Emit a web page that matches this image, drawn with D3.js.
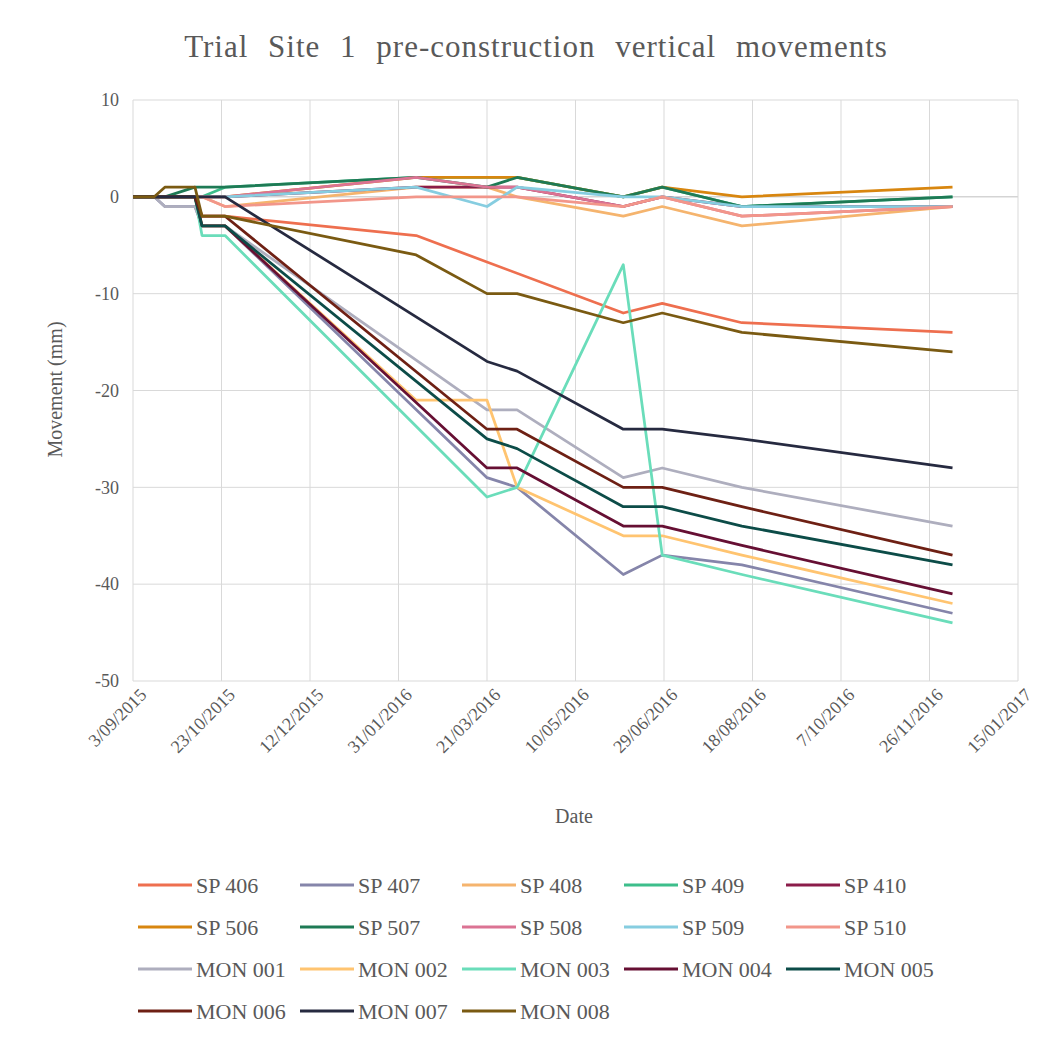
<!DOCTYPE html>
<html>
<head>
<meta charset="utf-8">
<script src="https://cdn.jsdelivr.net/npm/d3@7"></script>
<style>
  html, body { margin: 0; padding: 0; background: #ffffff; }
  svg { display: block; }
  svg text { font-family: "Liberation Serif", Tinos, "Noto Serif", "DejaVu Serif", FreeSerif, "Times New Roman", Times, serif; }
</style>
</head>
<body>
<svg id="chart" width="1057" height="1042"></svg>
<script>
// Survey dates (shared x values for every monitoring point)
const surveyDates = ["2015-09-03", "2015-09-15", "2015-09-21", "2015-10-08", "2015-10-12", "2015-10-25",
  "2016-02-10", "2016-03-21", "2016-04-07", "2016-06-06", "2016-06-28", "2016-08-12", "2016-12-09"];

// Series names in legend order
const seriesNames = ["SP 406", "SP 407", "SP 408", "SP 409", "SP 410",
  "SP 506", "SP 507", "SP 508", "SP 509", "SP 510",
  "MON 001", "MON 002", "MON 003", "MON 004", "MON 005",
  "MON 006", "MON 007", "MON 008"];

// Vertical movement (mm) per survey; null = not surveyed
const sp406 = [0, 0, 0, 0, -2, -2, -4, null, null, -12, -11, -13, -14];
const sp407 = [0, 0, -1, -1, -3, -3, null, -29, -30, -39, -37, -38, -43];
const sp408 = [0, 0, 0, 0, 0, -1, 1, 1, 0, -2, -1, -3, -1];
const sp409 = [0, 0, 0, 0, 0, 1, 2, 2, 2, 0, 1, -1, 0];
const sp410 = [0, 0, 0, 0, 0, 0, 1, 1, 1, -1, 0, -1, -1];
const sp506 = [0, 0, 0, 0, 0, 0, 2, 2, 2, 0, 1, 0, 1];
const sp507 = [0, 0, 0, 1, 1, 1, 2, 1, 2, 0, 1, -1, 0];
const sp508 = [0, 0, 0, 0, 0, 0, 2, 1, 1, -1, 0, -2, -1];
const sp509 = [0, 0, 0, 0, 0, 0, 1, -1, 1, 0, 0, -1, -1];
const sp510 = [0, 0, 0, 0, 0, -1, 0, 0, 0, -1, 0, -2, -1];
const mon001 = [0, 0, -1, -1, -3, -3, null, -22, -22, -29, -28, -30, -34];
const mon002 = [0, 0, 0, 0, -3, -3, -21, -21, -30, -35, -35, -37, -42];
const mon003 = [0, 0, 0, 0, -4, -4, null, -31, -30, -7, -37, -39, -44];
const mon004 = [0, 0, 0, 0, -3, -3, null, -28, -28, -34, -34, -36, -41];
const mon005 = [0, 0, 0, 0, -3, -3, null, -25, -26, -32, -32, -34, -38];
const mon006 = [0, 0, 0, 0, -2, -2, null, -24, -24, -30, -30, -32, -37];
const mon007 = [0, 0, 0, 0, 0, 0, null, -17, -18, -24, -24, -25, -28];
const mon008 = [0, 0, 1, 1, -2, -2, -6, -10, -10, -13, -12, -14, -16];

const seriesValues = [sp406, sp407, sp408, sp409, sp410, sp506, sp507, sp508, sp509, sp510,
  mon001, mon002, mon003, mon004, mon005, mon006, mon007, mon008];

const seriesColors = ["#EE6F4F", "#8585AA", "#F5B46E", "#3DBE8B", "#8B1C4A",
  "#D8860F", "#1E7A55", "#DB7393", "#86CDE0", "#F2968A",
  "#AEAEBE", "#FFC470", "#6ADDBA", "#660F33", "#0C4C48",
  "#6E2014", "#262A40", "#7A5A12"];

// Axis tick labels
const xTickLabels = ["3/09/2015", "23/10/2015", "12/12/2015", "31/01/2016", "21/03/2016", "10/05/2016",
  "29/06/2016", "18/08/2016", "7/10/2016", "26/11/2016", "15/01/2017"];
const yTicks = [10, 0, -10, -20, -30, -40, -50];

const svg = d3.select("#chart");
const parseISO = d3.utcParse("%Y-%m-%d");
const parseTick = d3.utcParse("%d/%m/%Y");
const tickDates = xTickLabels.map(parseTick);

const plot = { left: 133, right: 1018, top: 100, bottom: 681 };
const x = d3.scaleUtc().domain([tickDates[0], tickDates[tickDates.length - 1]]).range([plot.left, plot.right]);
const y = d3.scaleLinear().domain([-50, 10]).range([plot.bottom, plot.top]);

const textColor = "#595959";
const gridColor = "#D9D9D9";

// Title
svg.append("text")
  .attr("x", 536).attr("y", 57)
  .attr("text-anchor", "middle")
  .attr("font-size", 31)
  .attr("letter-spacing", 1)
  .attr("word-spacing", 11)
  .attr("fill", textColor)
  .text("Trial Site 1 pre-construction vertical movements");

// Gridlines
const grid = svg.append("g");
grid.selectAll("line.h").data(yTicks).join("line")
  .attr("x1", plot.left).attr("x2", plot.right)
  .attr("y1", d => y(d)).attr("y2", d => y(d))
  .attr("stroke", d => d === 0 ? "#BFBFBF" : gridColor).attr("stroke-width", 1);
grid.selectAll("line.v").data(tickDates).join("line")
  .attr("x1", d => x(d)).attr("x2", d => x(d))
  .attr("y1", plot.top).attr("y2", plot.bottom)
  .attr("stroke", gridColor).attr("stroke-width", 1);

// Y axis labels (plain hyphen minus)
const yAxis = d3.axisLeft(y).tickValues(yTicks).tickSize(0).tickPadding(14).tickFormat(d => String(d));
const yg = svg.append("g").attr("transform", `translate(${plot.left},0)`).call(yAxis);
yg.select(".domain").remove();
yg.selectAll("text").attr("font-size", 18).attr("fill", textColor);

// X axis labels (rotated)
const xAxis = d3.axisBottom(x).tickValues(tickDates).tickSize(0).tickFormat((d, i) => xTickLabels[i]);
const xg = svg.append("g").attr("transform", `translate(0,${plot.bottom})`).call(xAxis);
xg.select(".domain").remove();
xg.selectAll("text")
  .attr("font-size", 18).attr("fill", textColor)
  .attr("text-anchor", "end")
  .attr("dy", 0).attr("y", 0)
  .attr("transform", "translate(14,15) rotate(-45)");

// Axis titles
svg.append("text")
  .attr("transform", `translate(62,${(plot.top + plot.bottom) / 2 - 1}) rotate(-90)`)
  .attr("text-anchor", "middle").attr("font-size", 20).attr("fill", textColor)
  .text("Movement (mm)");
svg.append("text")
  .attr("x", 574).attr("y", 823)
  .attr("text-anchor", "middle").attr("font-size", 20).attr("fill", textColor)
  .text("Date");

// Series lines
const dates = surveyDates.map(parseISO);
const line = d3.line()
  .x(d => x(d.date))
  .y(d => y(d.value));

const series = seriesNames.map((name, i) => ({
  name,
  color: seriesColors[i],
  points: seriesValues[i]
    .map((v, j) => ({ date: dates[j], value: v }))
    .filter(p => p.value !== null)
}));

svg.append("g").selectAll("path").data(series).join("path")
  .attr("d", d => line(d.points))
  .attr("fill", "none")
  .attr("stroke", d => d.color)
  .attr("stroke-width", 2.75)
  .attr("stroke-linejoin", "round");

// Legend (5 columns x 4 rows)
const legend = svg.append("g");
const entry = legend.selectAll("g").data(series).join("g")
  .attr("transform", (d, i) => `translate(${138 + (i % 5) * 162},${885 + Math.floor(i / 5) * 42})`);
entry.append("line")
  .attr("x1", 0).attr("x2", 54).attr("y1", 0).attr("y2", 0)
  .attr("stroke", d => d.color).attr("stroke-width", 3);
entry.append("text")
  .attr("x", 58).attr("y", 0).attr("dy", "0.35em")
  .attr("font-size", 22).attr("fill", textColor)
  .text(d => d.name);
</script>
</body>
</html>
